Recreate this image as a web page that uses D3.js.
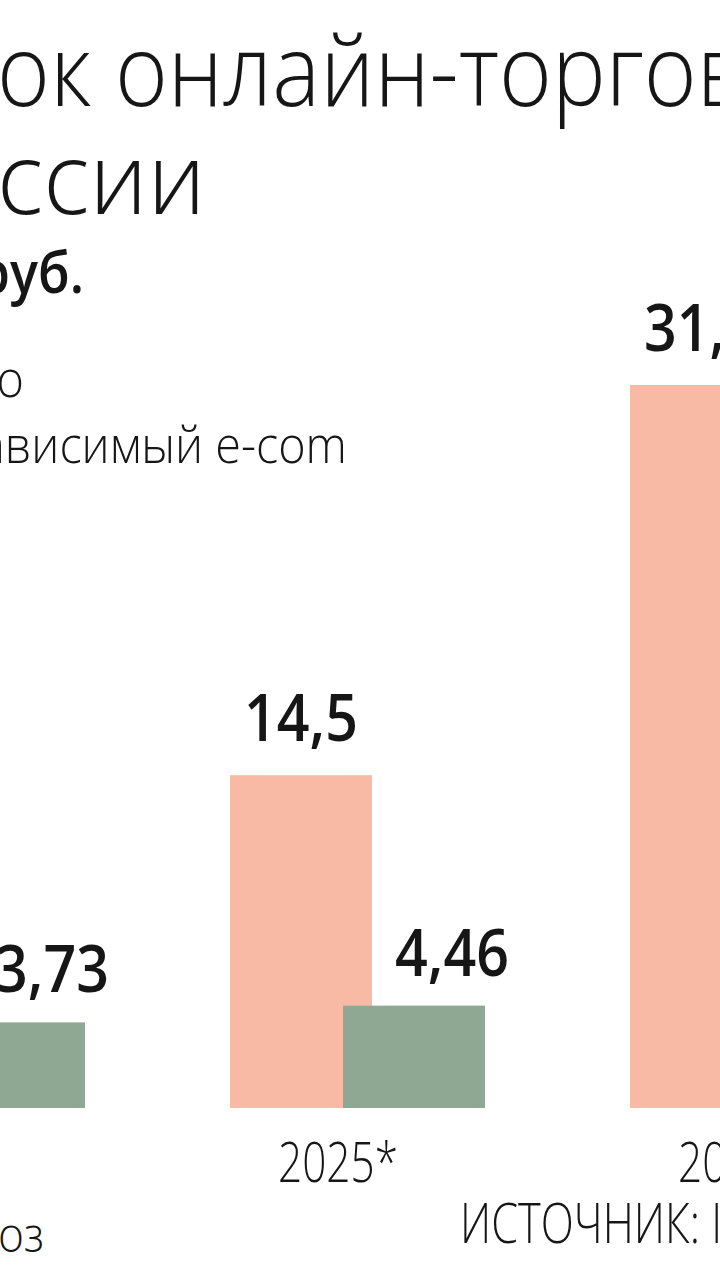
<!DOCTYPE html>
<html>
<head>
<meta charset="utf-8">
<script src="https://cdn.jsdelivr.net/npm/d3@7"></script>
<style>
  html, body { margin: 0; padding: 0; background: #ffffff; overflow: hidden; }
</style>
</head>
<body>
<script>
// ---------- data ----------
const titleLines = ["Рынок онлайн-торговли в", "России"];
const subtitle = "трлн руб.";
const seriesNames = ["Всего", "Независимый e-com"];
const categories = ["2024", "2025*", "2030"];
const totalValues = [11.2, 14.5, 31.5];        // 2024 value is outside the visible crop (estimate)
const independentValues = [3.73, 4.46, 8.0];   // 2030 value is outside the visible crop (estimate)
const footnote = "* Прогноз";
const source = "ИСТОЧНИК: INFOLine";

const colors = { "Всего": "#f8b9a5", "Независимый e-com": "#8fa893" };
const FONT = "'Open Sans', sans-serif";
const INK = "#161616";

const W = 720, H = 1280;
const svg = d3.select("body").append("svg")
  .attr("width", W).attr("height", H).style("display", "block");
svg.append("rect").attr("width", W).attr("height", H).attr("fill", "#fff");

function addText(parent, str, size, weight, anchor) {
  return parent.append("text").text(str)
    .attr("font-family", FONT).attr("font-size", size)
    .attr("font-weight", weight).attr("fill", INK)
    .attr("text-anchor", anchor || "start");
}
function place(t, x, y, sx) {
  t.attr("transform", `translate(${x},${y}) scale(${sx},1)`);
}
function widthOf(str, size, weight) {
  const t = addText(svg, str, size, weight);
  const w = t.node().getComputedTextLength();
  t.remove();
  return w;
}

// ---------- title ----------
const t1 = addText(svg, titleLines[0], 99, 300);
const n1 = t1.node();
const sxT = 700 / n1.getSubStringLength(3, 15);
place(t1, -3 - n1.getSubStringLength(0, 3) * sxT, 106, sxT);

const t2 = addText(svg, titleLines[1], 99, 300);
const n2 = t2.node();
const sxT2 = 209 / n2.getSubStringLength(2, 4);
place(t2, -3 - n2.getSubStringLength(0, 2) * sxT2, 214, sxT2);

// ---------- subtitle ----------
const st = addText(svg, subtitle, 58, 600, "end");
place(st, 84, 293, 0.9);

// ---------- legend ----------
const legSize = 51;
const lw = seriesNames.map(s => widthOf(s, legSize, 300));
const sxL = 323 / (lw[1] - lw[0]);
const legX = 347 - lw[1] * sxL;
const legY = d3.scalePoint().domain(seriesNames).range([397, 463]);
const legend = svg.append("g");
seriesNames.forEach(s => {
  legend.append("rect")
    .attr("x", legX - 52).attr("y", legY(s) - 32)
    .attr("width", 34).attr("height", 34)
    .attr("fill", colors[s]);
  const t = addText(legend, s, legSize, 300);
  place(t, legX, legY(s), sxL);
});

// ---------- scales ----------
const y = d3.scaleLinear().domain([0, d3.max(totalValues)]).range([1108, 385]);
const x0 = d3.scaleBand().domain(categories).range([-170, 1030]);
const x1 = d3.scalePoint().domain(seriesNames).range([0, 113]);
const barW = 142;

const rows = categories.map((c, i) => ({
  cat: c,
  vals: [
    { s: seriesNames[0], v: totalValues[i] },
    { s: seriesNames[1], v: independentValues[i] }
  ]
}));

// ---------- bars ----------
const groups = svg.append("g").selectAll("g").data(rows).join("g")
  .attr("transform", d => `translate(${x0(d.cat)},0)`);

groups.selectAll("rect").data(d => d.vals).join("rect")
  .attr("x", d => x1(d.s))
  .attr("y", d => y(d.v))
  .attr("width", barW)
  .attr("height", d => y(0) - y(d.v))
  .attr("fill", d => colors[d.s]);

// ---------- value labels ----------
const fmt = v => String(v).replace(".", ",");
const numSize = 66;
const sxN = 114 / widthOf("14,5", numSize, 600);
groups.each(function(d) {
  const g = d3.select(this);
  d.vals.forEach((p, k) => {
    const t = addText(g, fmt(p.v), numSize, 600, "middle");
    const cx = x1(p.s) + barW / 2 + (k === 1 ? 38 : 0);
    place(t, cx, y(p.v) - (k === 1 ? 30 : 34), sxN);
  });
});

// ---------- category labels ----------
const catSize = 56;
const sxC = 120 / widthOf("2025*", catSize, 300);
groups.each(function(d) {
  const t = addText(d3.select(this), d.cat, catSize, 300);
  place(t, 48, 1182, sxC);
});

// ---------- footer ----------
const fn = addText(svg, footnote, 47, 300);
const fnN = fn.node();
const sxF = 46 / fnN.getSubStringLength(7, 2);
place(fn, -2 - fnN.getSubStringLength(0, 7) * sxF, 1252, sxF);

const src = addText(svg, source, 56, 300);
const srcN = src.node();
const sxS = 240 / srcN.getSubStringLength(0, 9);
place(src, 460, 1243, sxS);
</script>
</body>
</html>
